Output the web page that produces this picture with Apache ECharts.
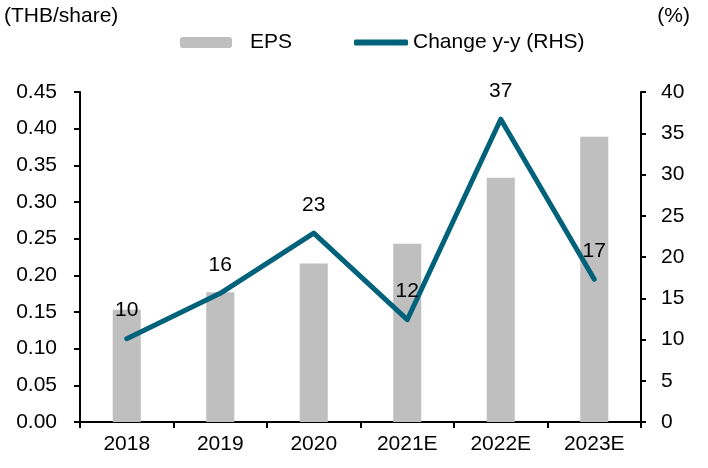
<!DOCTYPE html>
<html>
<head>
<meta charset="utf-8">
<script src="https://cdn.jsdelivr.net/npm/echarts@6/dist/echarts.min.js"></script>
<style>
  html, body { margin: 0; padding: 0; background: #fff; }
  #chart { width: 708px; height: 468px; }
</style>
</head>
<body>
<div id="chart"></div>
<script>
const years = ['2018', '2019', '2020', '2021E', '2022E', '2023E'];
const eps = [0.153, 0.177, 0.216, 0.243, 0.333, 0.389];
const changeYoY = [10.1, 15.6, 22.9, 12.4, 36.7, 17.3];

const font = 'Liberation Sans, Arial, sans-serif';
const teal = '#00627a';
const fs = 21;

const chart = echarts.init(document.getElementById('chart'));

const option = {
  animation: false,
  textStyle: { fontFamily: font, color: '#000' },
  title: [
    { text: '(THB/share)', left: 4, top: 6, padding: 0, textStyle: { fontSize: fs, fontWeight: 'normal', color: '#000', fontFamily: font } },
    { text: '(%)', right: 18, top: 6, padding: 0, textStyle: { fontSize: fs, fontWeight: 'normal', color: '#000', fontFamily: font } }
  ],
  legend: [
    {
      data: ['EPS'],
      left: 180,
      top: 32,
      padding: 0,
      itemWidth: 52,
      itemHeight: 11,
      textStyle: { fontSize: fs, color: '#000', fontFamily: font, padding: [0, 0, 0, 13] }
    },
    {
      data: [{ name: 'Change y-y (RHS)', icon: 'roundRect' }],
      left: 354,
      top: 32,
      padding: 0,
      itemWidth: 54,
      itemHeight: 6,
      textStyle: { fontSize: fs, color: '#000', fontFamily: font }
    }
  ],
  grid: { left: 80, right: 67, top: 92, bottom: 46 },
  xAxis: {
    type: 'category',
    data: years,
    axisLine: { lineStyle: { color: '#000', width: 2 } },
    axisTick: { show: true, length: 6, lineStyle: { color: '#000', width: 2 } },
    axisLabel: { fontSize: fs, color: '#000', margin: 12 }
  },
  yAxis: [
    {
      type: 'value',
      min: 0,
      max: 0.45,
      interval: 0.05,
      splitLine: { show: false },
      axisLine: { show: true, lineStyle: { color: '#000', width: 2 } },
      axisTick: { show: true, length: 6, lineStyle: { color: '#000', width: 2 } },
      axisLabel: { fontSize: fs, color: '#000', margin: 23, formatter: v => v.toFixed(2) }
    },
    {
      type: 'value',
      min: 0,
      max: 40,
      interval: 5,
      splitLine: { show: false },
      axisLine: { show: true, lineStyle: { color: '#000', width: 2 } },
      axisTick: { show: true, length: 5, lineStyle: { color: '#000', width: 2 } },
      axisLabel: { fontSize: fs, color: '#000', margin: 20 }
    }
  ],
  series: [
    {
      name: 'EPS',
      type: 'bar',
      data: eps,
      barWidth: '30%',
      itemStyle: { color: '#bfbfbf' }
    },
    {
      name: 'Change y-y (RHS)',
      type: 'line',
      yAxisIndex: 1,
      data: changeYoY,
      symbol: 'circle',
      symbolSize: 1,
      itemStyle: { color: teal },
      lineStyle: { color: teal, width: 5, cap: 'round', join: 'round' },
      label: {
        show: true,
        position: 'top',
        distance: 17,
        fontSize: fs,
        color: '#000',
        formatter: p => Math.round(p.value)
      }
    }
  ]
};

chart.setOption(option);
</script>
</body>
</html>
